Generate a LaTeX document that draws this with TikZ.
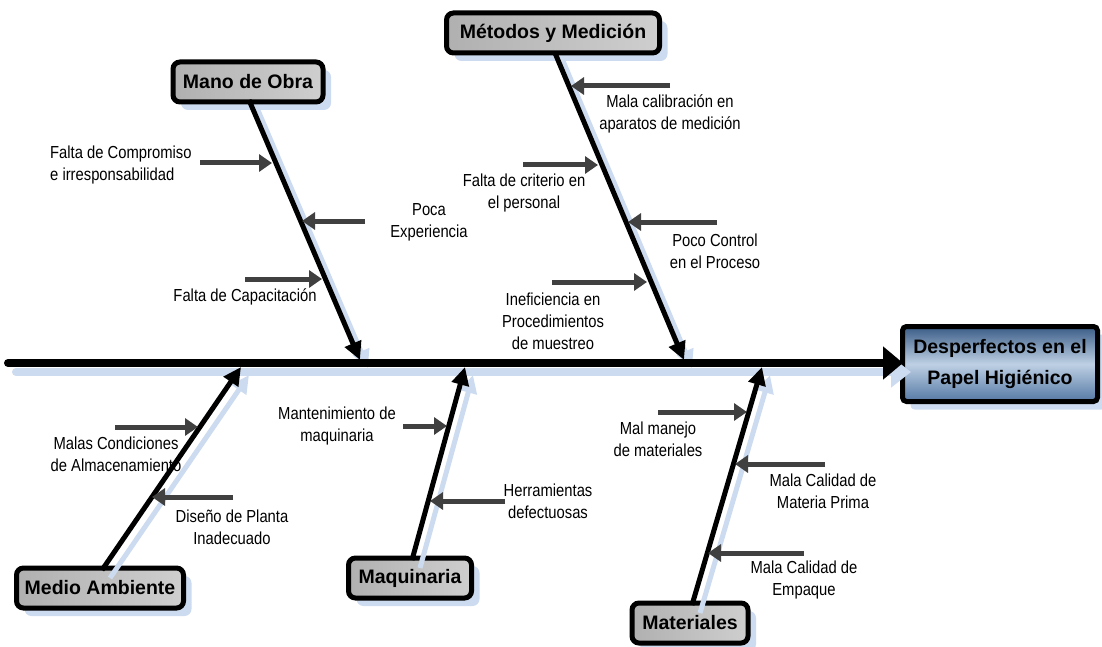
\documentclass[tikz,border=0pt]{standalone}
\usepackage{fontspec}
\setmainfont{Liberation Sans}
\newfontfamily\bodyfont[FakeStretch=0.85]{Liberation Sans}
\newfontfamily\headfont[FakeStretch=1.0]{Liberation Sans}
\usetikzlibrary{arrows.meta,shadows}
\definecolor{shadowblue}{RGB}{204,219,239}
\definecolor{causegray}{RGB}{64,64,64}
\definecolor{effdark}{RGB}{58,92,134}
\definecolor{efflight}{RGB}{190,208,228}
\definecolor{effmid}{RGB}{84,120,164}
\begin{document}
\begin{tikzpicture}[x=1pt,y=-1pt,
  cat/.style={draw=black, line width=5pt, rounded corners=7pt, minimum height=40pt,
    inner sep=0pt, font={\headfont\bfseries\fontsize{19.5}{22}\selectfont},
    left color=gray!62, right color=gray!38,
    general shadow={fill=shadowblue, shadow xshift=8pt, shadow yshift=-8pt}},
  eff/.style={draw=black, line width=5pt, rounded corners=4pt, minimum width=195pt,
    minimum height=75pt, inner sep=0pt, align=center,
    font={\headfont\bfseries\fontsize{19.5}{31}\selectfont},
    top color=effdark, bottom color=effmid, middle color=efflight,
    general shadow={fill=shadowblue, shadow xshift=8pt, shadow yshift=-8pt}},
  txt/.style={font={\bodyfont\fontsize{17.4}{21.8}\selectfont}, align=center, inner sep=0pt},
  bone/.style={draw=black, line width=5pt, -{Triangle[length=18pt,width=17pt]}},
  boneshadow/.style={draw=shadowblue, line width=5pt, -{Triangle[length=18pt,width=17pt]},
    transform canvas={xshift=8pt,yshift=-8pt}},
  spine/.style={draw=black, line width=8pt, line cap=round, -{Triangle[length=20pt,width=32pt]}},
  spineshadow/.style={draw=shadowblue, line width=8pt, line cap=round, -{Triangle[length=20pt,width=30pt]},
    transform canvas={xshift=8pt,yshift=-9pt}},
  cause/.style={draw=causegray, line width=5pt, -{Triangle[length=13pt,width=17pt]}}
]
\useasboundingbox (0,0) rectangle (1102,647);

% category boxes and effect
\node[cat, minimum width=150pt] (mo) at (248,82) {Mano de Obra};
\node[cat, minimum width=213pt] (md) at (553,33) {Métodos y Medición};
\node[cat, minimum width=167pt] (ma) at (100,588) {Medio Ambiente};
\node[cat, minimum width=123pt] (mq) at (410,578) {Maquinaria};
\node[cat, minimum width=116pt] (mt) at (690,623) {Materiales};
\node[eff] (ef) at (1000,364) {Desperfectos en el\\Papel Higiénico};

% spine coordinates
\coordinate (s0) at (8,363);
\coordinate (se) at (903,363);
% bone tips
\coordinate (b1) at (360,360);
\coordinate (b2) at (684,360);
\coordinate (b3) at (241,367);
\coordinate (b4) at (465,367);
\coordinate (b5) at (762,367);
\coordinate (mos) at (249,100);
\coordinate (mds) at (555,53);
\coordinate (man) at (102,570);
\coordinate (mqn) at (412,560);
\coordinate (mtn) at (692,605);

% shadows
\draw[spineshadow] (s0) -- (se);
\draw[boneshadow] (mos) -- (b1);
\draw[boneshadow] (mds) -- (b2);
\draw[boneshadow] (man) -- (b3);
\draw[boneshadow] (mqn) -- (b4);
\draw[boneshadow] (mtn) -- (b5);

% spine and bones
\draw[spine] (s0) -- (se);
\draw[bone] (mos) -- (b1);
\draw[bone] (mds) -- (b2);
\draw[bone] (man) -- (b3);
\draw[bone] (mqn) -- (b4);
\draw[bone] (mtn) -- (b5);

% cause arrows: Mano de Obra
\coordinate (a1s) at (200,163); \coordinate (a1e) at (272,163);
\coordinate (a2s) at (365,221); \coordinate (a2e) at (302,221);
\coordinate (a3s) at (245,279); \coordinate (a3e) at (322,279);
% Metodos
\coordinate (a4s) at (670,86);  \coordinate (a4e) at (571,86);
\coordinate (a5s) at (523,165); \coordinate (a5e) at (598,165);
\coordinate (a6s) at (717,222); \coordinate (a6e) at (628,222);
\coordinate (a7s) at (552,282); \coordinate (a7e) at (647,282);
% Medio Ambiente
\coordinate (a8s) at (115,427); \coordinate (a8e) at (198,427);
\coordinate (a9s) at (233,497); \coordinate (a9e) at (152,497);
% Maquinaria
\coordinate (a10s) at (403,426); \coordinate (a10e) at (447,426);
\coordinate (a11s) at (505,501); \coordinate (a11e) at (430,501);
% Materiales
\coordinate (a12s) at (658,412); \coordinate (a12e) at (747,412);
\coordinate (a13s) at (825,464); \coordinate (a13e) at (735,464);
\coordinate (a14s) at (804,553); \coordinate (a14e) at (708,553);

\foreach \i in {1,...,14} {\draw[cause] (a\i s) -- (a\i e);}

% labels
\node[txt, align=left, anchor=west] (l1) at (50,165) {Falta de Compromiso\\e irresponsabilidad};
\node[txt] (l2) at (429,222) {Poca\\Experiencia};
\node[txt] (l3) at (245,297) {Falta de Capacitación};
\node[txt] (l4) at (670,114) {Mala calibración en\\aparatos de medición};
\node[txt] (l5) at (524,193) {Falta de criterio en\\el personal};
\node[txt] (l6) at (715,251) {Poco Control\\en el Proceso};
\node[txt] (l7) at (553,321) {Ineficiencia en\\Procedimientos\\de muestreo};
\node[txt] (l8) at (116,454) {Malas Condiciones\\de Almacenamiento};
\node[txt] (l9) at (232,527) {Diseño de Planta\\Inadecuado};
\node[txt] (l10) at (337,426) {Mantenimiento de\\maquinaria};
\node[txt] (l11) at (548,501) {Herramientas\\defectuosas};
\node[txt] (l12) at (658,439) {Mal manejo\\de materiales};
\node[txt] (l13) at (823,491) {Mala Calidad de\\Materia Prima};
\node[txt] (l14) at (804,580) {Mala Calidad de\\Empaque};
\end{tikzpicture}
\end{document}
